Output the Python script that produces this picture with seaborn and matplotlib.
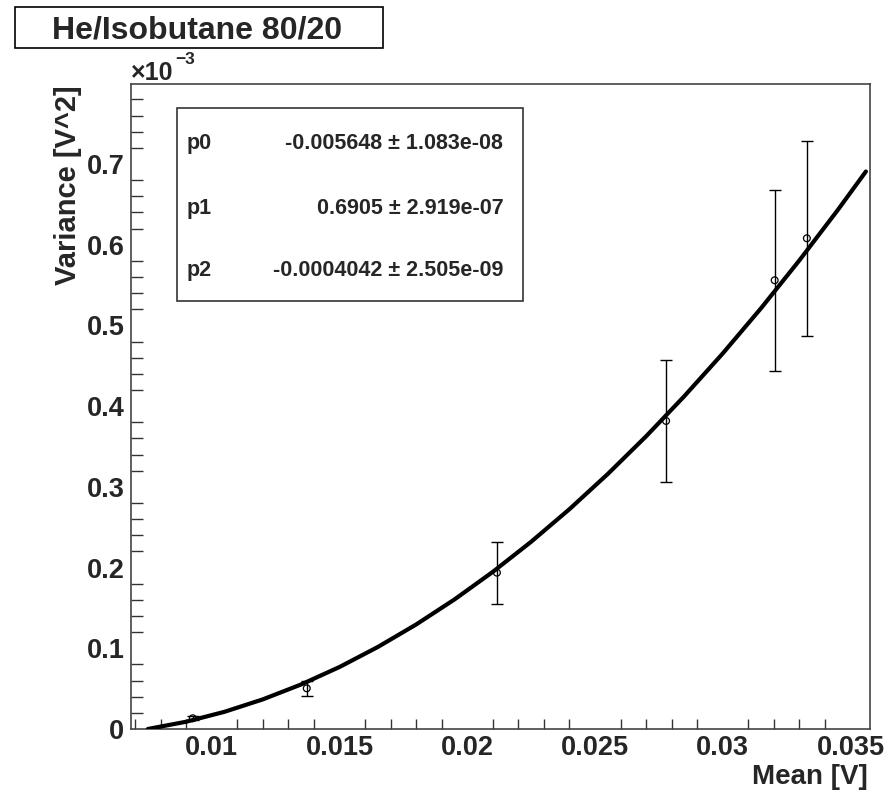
import numpy as np
import pandas as pd
import matplotlib
matplotlib.use("Agg")
import matplotlib.pyplot as plt
from matplotlib.patches import Rectangle
from matplotlib.ticker import MultipleLocator, FixedLocator
import seaborn as sns

# ---------------- data (y in units of 1e-3 V^2) ----------------
mean_v = [0.00926, 0.01372, 0.02116, 0.02778, 0.03203, 0.03329]
variance = [0.0133, 0.0504, 0.1937, 0.3817, 0.556, 0.608]
variance_err = [0.0027, 0.0095, 0.0383, 0.0756, 0.112, 0.121]

# fitted curve
fit_x = [0.0075, 0.009, 0.0105, 0.012, 0.0135, 0.015, 0.0165, 0.018, 0.0195,
         0.021, 0.0225, 0.024, 0.0255, 0.027, 0.0285, 0.030, 0.0315, 0.033,
         0.0345, 0.0356]
fit_y = [0.0, 0.009, 0.0213, 0.0367, 0.0552, 0.0768, 0.1016, 0.1295, 0.1605,
         0.1947, 0.2320, 0.2724, 0.3160, 0.3627, 0.4126, 0.4654, 0.5215, 0.5808,
         0.6431, 0.6908]

param_names = ["p0", "p1", "p2"]
param_values = ["-0.005648", "0.6905", "-0.0004042"]
param_errors = ["1.083e-08", "2.919e-07", "2.505e-09"]

x_ticks = [0.01, 0.015, 0.02, 0.025, 0.03, 0.035]
x_tick_labels = ["0.01", "0.015", "0.02", "0.025", "0.03", "0.035"]
y_ticks = [0, 0.1, 0.2, 0.3, 0.4, 0.5, 0.6, 0.7]
y_tick_labels = ["0", "0.1", "0.2", "0.3", "0.4", "0.5", "0.6", "0.7"]

title = "He/Isobutane 80/20"
xlabel = "Mean [V]"
ylabel = "Variance [V^2]"

# ---------------- style ----------------
sns.set_style("white")
plt.rcParams["font.family"] = ["Liberation Sans", "DejaVu Sans"]
plt.rcParams["font.weight"] = "bold"

W, H = 892, 795
fig = plt.figure(figsize=(W / 100, H / 100), dpi=100)
fig.patch.set_facecolor("white")

L, R, T, B = 130.7, 870.0, 84.3, 729.0
ax = fig.add_axes([L / W, 1 - B / H, (R - L) / W, (B - T) / H])

pts = pd.DataFrame({"x": mean_v, "y": variance, "err": variance_err})
fit = pd.DataFrame({"x": fit_x, "y": fit_y})

ax.errorbar(pts["x"], pts["y"], yerr=pts["err"], fmt="none", ecolor="black",
            elinewidth=1.0, capsize=4, capthick=1.0, zorder=2)
sns.scatterplot(data=pts, x="x", y="y", ax=ax, marker="o", s=24,
                facecolor="none", edgecolor="black", linewidth=0.9, zorder=3)
sns.lineplot(data=fit, x="x", y="y", ax=ax, color="black", linewidth=3.0,
             zorder=4, sort=False)

ax.set_xlim(0.00683, 0.03576)
ax.set_ylim(0, 0.7988)

ax.xaxis.set_major_locator(FixedLocator(x_ticks))
ax.set_xticklabels(x_tick_labels)
ax.xaxis.set_minor_locator(MultipleLocator(0.001))
ax.yaxis.set_major_locator(FixedLocator(y_ticks))
ax.set_yticklabels(y_tick_labels)
ax.yaxis.set_minor_locator(MultipleLocator(0.02))

ax.tick_params(axis="x", which="major", direction="in", length=14, width=1,
               color="#333333", labelsize=19.5, pad=4, top=False)
ax.tick_params(axis="x", which="minor", direction="in", length=7, width=1,
               color="#333333", top=False, bottom=True)
ax.tick_params(axis="y", which="major", direction="in", length=17, width=1,
               color="#333333", labelsize=19.5, pad=4.5, right=False)
ax.tick_params(axis="y", which="minor", direction="in", length=8.5, width=1,
               color="#333333", right=False, left=True)
for lbl in ax.get_xticklabels() + ax.get_yticklabels():
    lbl.set_fontweight("bold")

for s in ax.spines.values():
    s.set_color("#444444")
    s.set_linewidth(1.2)

ax.set_xlabel("")
ax.set_ylabel("")
fig.text(868 / W, 1 - 784 / H, xlabel, ha="right", va="baseline",
         fontsize=20, fontweight="bold")
fig.text(76 / W, 1 - 85 / H, ylabel, ha="right", va="baseline", rotation=90,
         rotation_mode="anchor", fontsize=21, fontweight="bold")

# x10^-3 multiplier
fig.text(131 / W, 1 - 80 / H, "\u00d710", ha="left", va="baseline",
         fontsize=18, fontweight="bold")
fig.text(175 / W, 1 - 64 / H, "\u22123", ha="left", va="baseline",
         fontsize=12.5, fontweight="bold")

# title box
fig.patches.append(Rectangle((15 / W, 1 - 47.7 / H), (382.7 - 15) / W,
                             (47.7 - 7.3) / H, transform=fig.transFigure,
                             facecolor="white", edgecolor="black", linewidth=1.2))
fig.text(197 / W, 1 - 38.5 / H, title, ha="center", va="baseline",
         fontsize=23, fontweight="bold")

# stats box
fig.patches.append(Rectangle((177.3 / W, 1 - 301 / H), (522.7 - 177.3) / W,
                             (301 - 108.3) / H, transform=fig.transFigure,
                             facecolor="white", edgecolor="#333333",
                             linewidth=1.2, zorder=5))
rows_y = [149.3, 214.3, 276]
for name, val, err, yy in zip(param_names, param_values, param_errors, rows_y):
    fig.text(186.7 / W, 1 - yy / H, name, ha="left", va="baseline",
             fontsize=15.5, fontweight="bold", zorder=6)
    fig.text(503.3 / W, 1 - yy / H, f"{val} \u00b1 {err}", ha="right",
             va="baseline", fontsize=15.5, fontweight="bold", zorder=6)

fig.savefig("out.png", dpi=100, facecolor="white")
